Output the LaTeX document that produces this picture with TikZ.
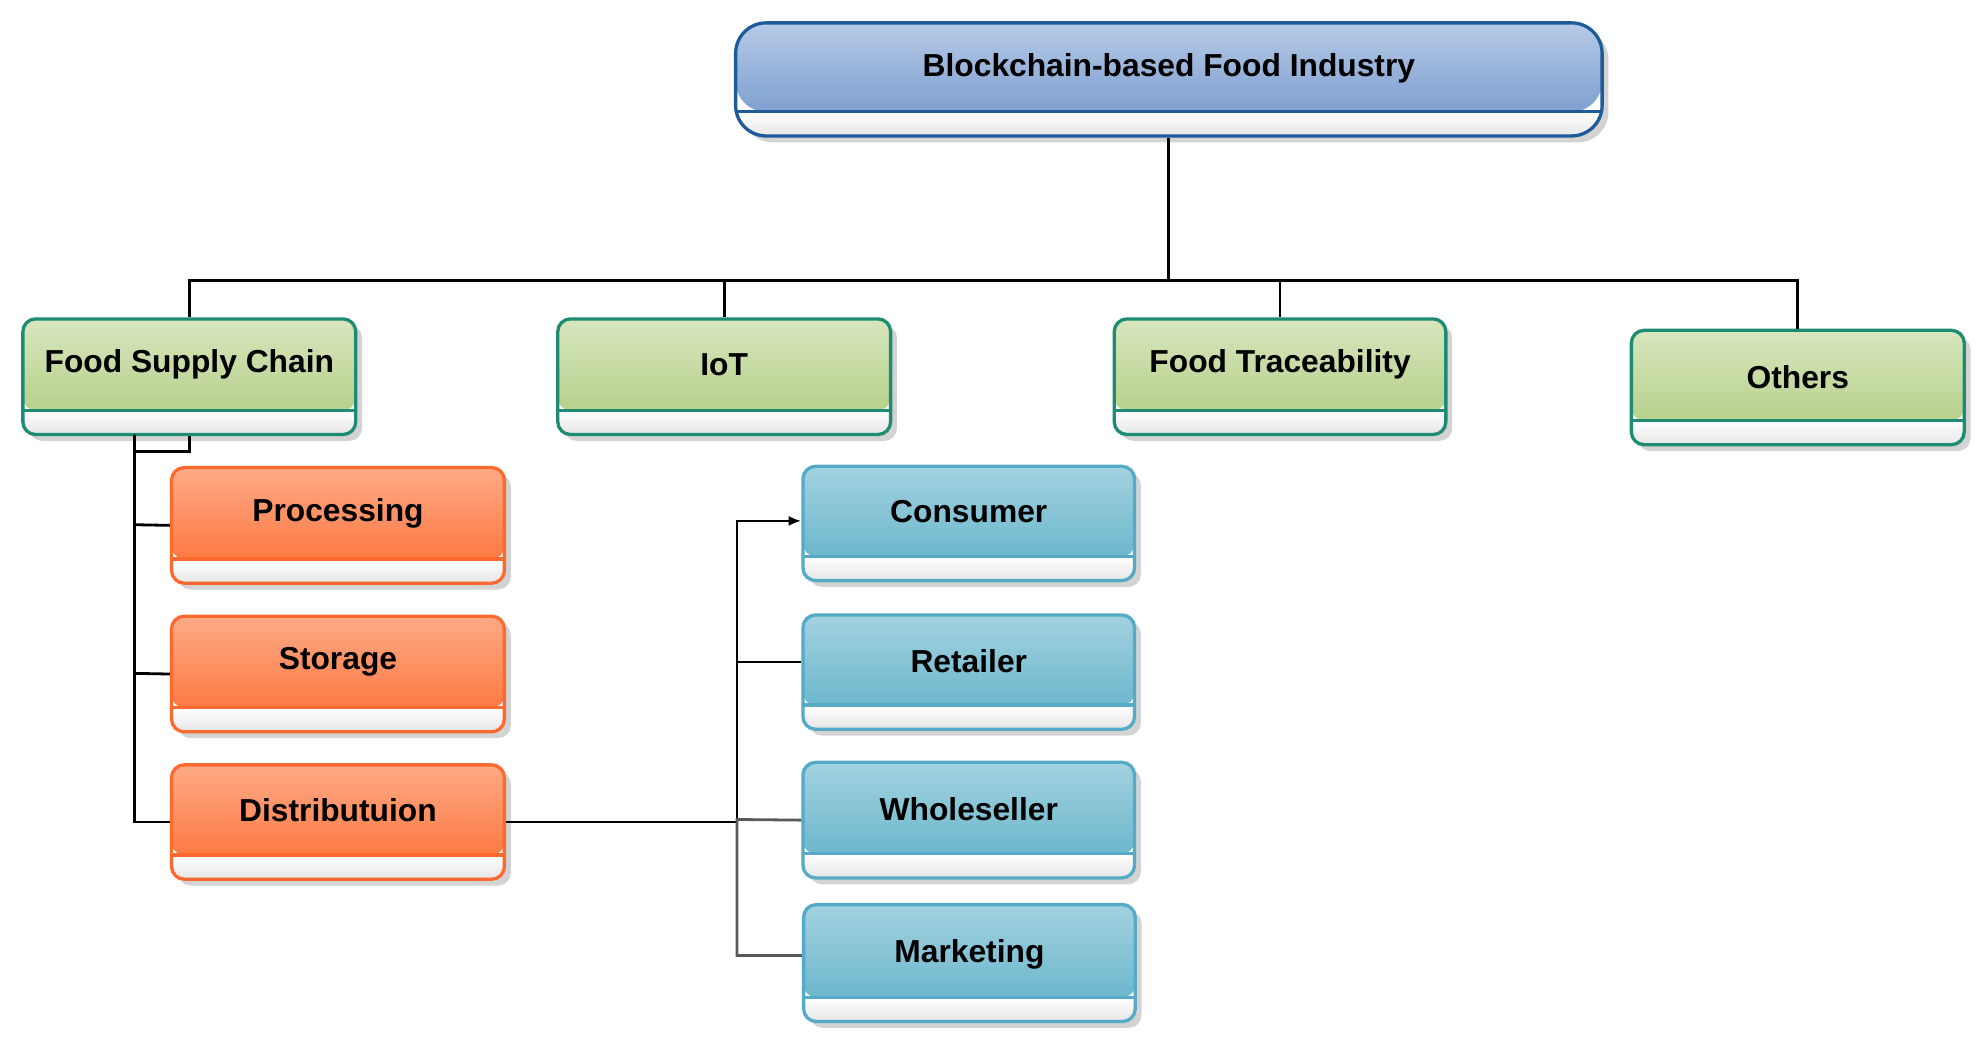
\documentclass[tikz,border=0pt]{standalone}
\usepackage{fontspec}
\setmainfont{Liberation Sans}
\usetikzlibrary{shadows,arrows.meta}
\begin{document}
\begin{tikzpicture}[x=0.5pt,y=-0.5pt,
  box/.style n args={3}{draw=#3,line width=1.3pt,fill=white,rounded corners=5pt,
    drop shadow={opacity=0.35,shadow xshift=2.5pt,shadow yshift=-2.5pt},
    inner sep=0pt,
    path picture={
      \shade[top color=#1,bottom color=#2] (path picture bounding box.north west) rectangle ([yshift=9.5pt]path picture bounding box.south east);
      \shade[top color=white,bottom color=black!10] ([yshift=9.5pt]path picture bounding box.south west) rectangle (path picture bounding box.south east);
      \draw[#3,line width=1.3pt] ([yshift=9.5pt]path picture bounding box.south west) -- ([yshift=9.5pt]path picture bounding box.south east);
    }},
  lbl/.style={font=\bfseries\fontsize{12.5}{14}\selectfont},
  con/.style={line width=1.1pt,black},
  gcon/.style={line width=1.1pt,black!65},
]
\definecolor{gtop}{HTML}{D8E6BE}
\definecolor{gbot}{HTML}{AECB7E}
\definecolor{gbrd}{HTML}{1E8C72}
\definecolor{otop}{HTML}{FDAA86}
\definecolor{obot}{HTML}{FD6D32}
\definecolor{obrd}{HTML}{FD6A30}
\definecolor{btop}{HTML}{A2D2E0}
\definecolor{bbot}{HTML}{5FB0C8}
\definecolor{bbrd}{HTML}{55ABC6}
\definecolor{ttop}{HTML}{B6CAE6}
\definecolor{tbot}{HTML}{6F94CB}
\definecolor{tbrd}{HTML}{1E5C99}
\useasboundingbox (0,0) rectangle (1560,820);
% top
\node[box={ttop}{tbot}{tbrd},rounded corners=12pt,minimum width=341pt,minimum height=44.5pt] (top) at (920,62.5) {};
\node[lbl] (topt) at (920,54) {Blockchain-based Food Industry};
% green
\node[box={gtop}{gbot}{gbrd},minimum width=131pt,minimum height=45.5pt] (fsc) at (149,296.5) {};
\node[lbl] at (149,287) {Food Supply Chain};
\node[box={gtop}{gbot}{gbrd},minimum width=131pt,minimum height=45.5pt] (iot) at (570,296.5) {};
\node[lbl] at (570,287) {IoT};
\node[box={gtop}{gbot}{gbrd},minimum width=130.5pt,minimum height=45.5pt] (ft) at (1007.5,296.5) {};
\node[lbl] at (1007.5,287) {Food Traceability};
\node[box={gtop}{gbot}{gbrd},minimum width=131pt,minimum height=45pt] (oth) at (1415,305) {};
\node[lbl] at (1415,297) {Others};
% orange
\node[box={otop}{obot}{obrd},minimum width=131pt,minimum height=45.5pt] (proc) at (266,413.5) {};
\node[lbl] at (266,404) {Processing};
\node[box={otop}{obot}{obrd},minimum width=131pt,minimum height=45.5pt] (stor) at (266,530.5) {};
\node[lbl] at (266,521) {Storage};
\node[box={otop}{obot}{obrd},minimum width=131pt,minimum height=45pt] (dist) at (266,647) {};
\node[lbl] at (266,638) {Distributuion};
% blue
\node[box={btop}{bbot}{bbrd},minimum width=130.5pt,minimum height=45pt] (cons) at (762.5,412) {};
\node[lbl] at (762.5,403) {Consumer};
\node[box={btop}{bbot}{bbrd},minimum width=130.5pt,minimum height=45pt] (ret) at (762.5,529) {};
\node[lbl] at (762.5,520) {Retailer};
\node[box={btop}{bbot}{bbrd},minimum width=130.5pt,minimum height=45.5pt] (whs) at (762.5,645.5) {};
\node[lbl] at (762.5,637) {Wholeseller};
\node[box={btop}{bbot}{bbrd},minimum width=130.5pt,minimum height=46pt] (mkt) at (763,758) {};
\node[lbl] at (763,751) {Marketing};
% connectors
\coordinate (hb) at (920,221);
\draw[con] (top.south) -- (hb);
\draw[con] (fsc.north) |- (hb) -| (oth.north);
\draw[con] (iot.north) -- ++(0,-30);
\draw[con] (ft.north) -- ++(0,-30);
\draw[con] (fsc.south) -- ++(0,12) -| (106,342) -- (106,647) -- (dist.west);
\draw[con] (106,413) -- (proc.west);
\draw[con] (106,530) -- (stor.west);
\coordinate (bj) at (580,647);
\draw[con] (dist.east) -- (bj);
\draw[con,-{Latex[length=5pt,width=4pt]}] (bj) -- (580,410) -- (cons.west |- 0,410);
\draw[con] (580,521) -- (ret.west |- 0,521);
\draw[gcon] (whs.west) -- (580,645) -- (580,752) -- (mkt.west |- 0,752);
\end{tikzpicture}
\end{document}
